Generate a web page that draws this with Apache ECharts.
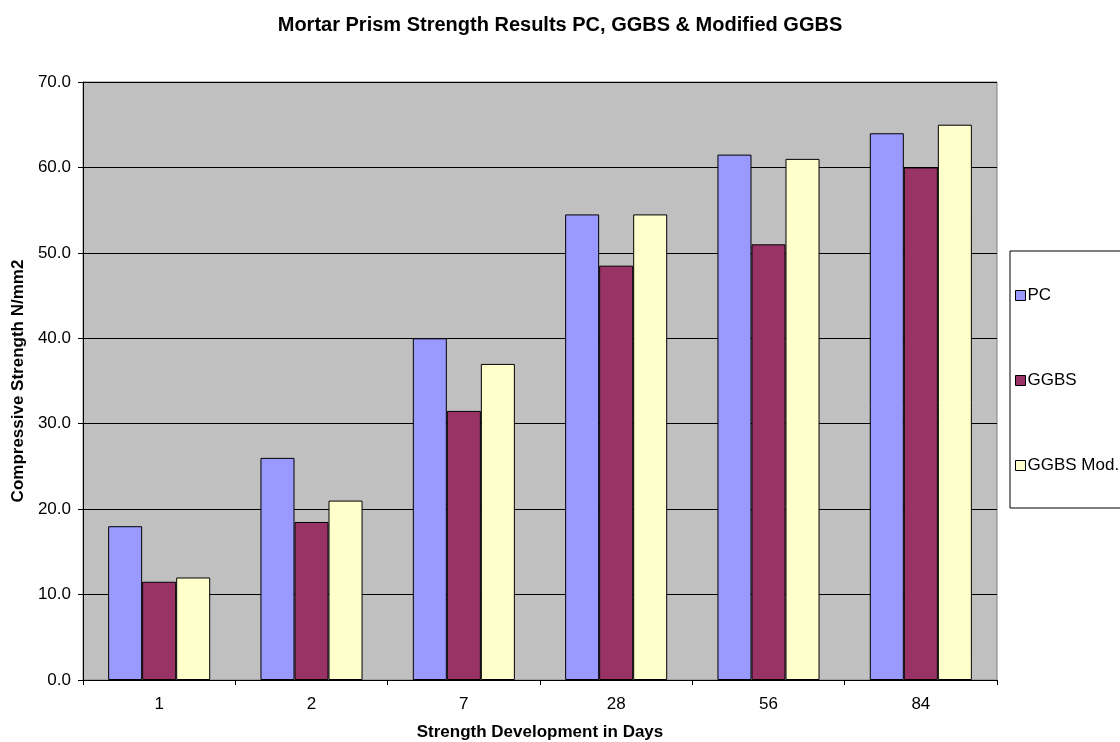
<!DOCTYPE html>
<html>
<head>
<meta charset="utf-8">
<script src="https://cdn.jsdelivr.net/npm/echarts@6/dist/echarts.min.js"></script>
<style>
  html, body { margin: 0; padding: 0; background: #fff; }
  #chart { width: 1120px; height: 742px; }
</style>
</head>
<body>
<div id="chart"></div>
<script>
// Curing ages (days) and compressive strengths (N/mm2)
const days = ['1', '2', '7', '28', '56', '84'];
const pc = [18.0, 26.0, 40.0, 54.5, 61.5, 64.0];
const ggbs = [11.5, 18.5, 31.5, 48.5, 51.0, 60.0];
const ggbsMod = [12.0, 21.0, 37.0, 54.5, 61.0, 65.0];

const FONT = 'Liberation Sans, Arial, sans-serif';

const chart = echarts.init(document.getElementById('chart'), null, { renderer: 'canvas' });

function barSeries(name, data, color) {
  return {
    name: name,
    type: 'bar',
    data: data,
    barGap: '0%',
    barCategoryGap: '33%',
    itemStyle: { color: color, borderColor: '#000', borderWidth: 1 },
    emphasis: { disabled: true }
  };
}

chart.setOption({
  animation: false,
  backgroundColor: '#fff',
  title: {
    text: 'Mortar Prism Strength Results PC, GGBS & Modified GGBS',
    left: 'center',
    top: 10,
    textStyle: { fontFamily: FONT, fontSize: 20, fontWeight: 'bold', color: '#000' }
  },
  legend: {
    orient: 'vertical',
    left: 1010,
    top: 251,
    padding: [36, 40, 34, 5],
    itemGap: 68,
    itemWidth: 10,
    itemHeight: 10,
    itemStyle: { borderColor: '#000', borderWidth: 1 },
    backgroundColor: '#fff',
    borderColor: '#000',
    borderWidth: 1,
    textStyle: { fontFamily: FONT, fontSize: 17, color: '#000', padding: [0, 0, 0, -3], lineHeight: 17 },
    icon: 'rect',
    data: ['PC', 'GGBS', 'GGBS Mod.']
  },
  grid: {
    left: 83,
    top: 82,
    right: 123,
    bottom: 62,
    outerBoundsMode: 'none',
    containLabel: false,
    show: true,
    backgroundColor: '#C0C0C0',
    borderColor: '#808080',
    borderWidth: 1
  },
  xAxis: {
    type: 'category',
    data: days,
    name: 'Strength Development in Days',
    nameLocation: 'middle',
    nameGap: 44,
    nameTextStyle: { fontFamily: FONT, fontSize: 17, fontWeight: 'bold', color: '#000' },
    axisLine: { lineStyle: { color: '#000', width: 1 } },
    axisTick: { show: true, inside: false, length: 5, lineStyle: { color: '#000' } },
    axisLabel: { fontFamily: FONT, fontSize: 17, color: '#000', margin: 16 },
    splitLine: { show: false }
  },
  yAxis: {
    type: 'value',
    min: 0,
    max: 70,
    interval: 10,
    name: 'Compressive Strength N/mm2',
    nameLocation: 'middle',
    nameGap: 50,
    nameRotate: 90,
    nameTextStyle: { fontFamily: FONT, fontSize: 17, fontWeight: 'bold', color: '#000' },
    axisLine: { show: true, lineStyle: { color: '#000', width: 1 } },
    axisTick: { show: true, inside: false, length: 5, lineStyle: { color: '#000' } },
    axisLabel: {
      fontFamily: FONT, fontSize: 17, color: '#000', margin: 12,
      formatter: function (v) { return v.toFixed(1); }
    },
    splitLine: { show: true, lineStyle: { color: '#000', width: 1 } }
  },
  series: [
    barSeries('PC', pc, '#9999FF'),
    barSeries('GGBS', ggbs, '#993366'),
    barSeries('GGBS Mod.', ggbsMod, '#FFFFCC')
  ]
});
</script>
</body>
</html>
